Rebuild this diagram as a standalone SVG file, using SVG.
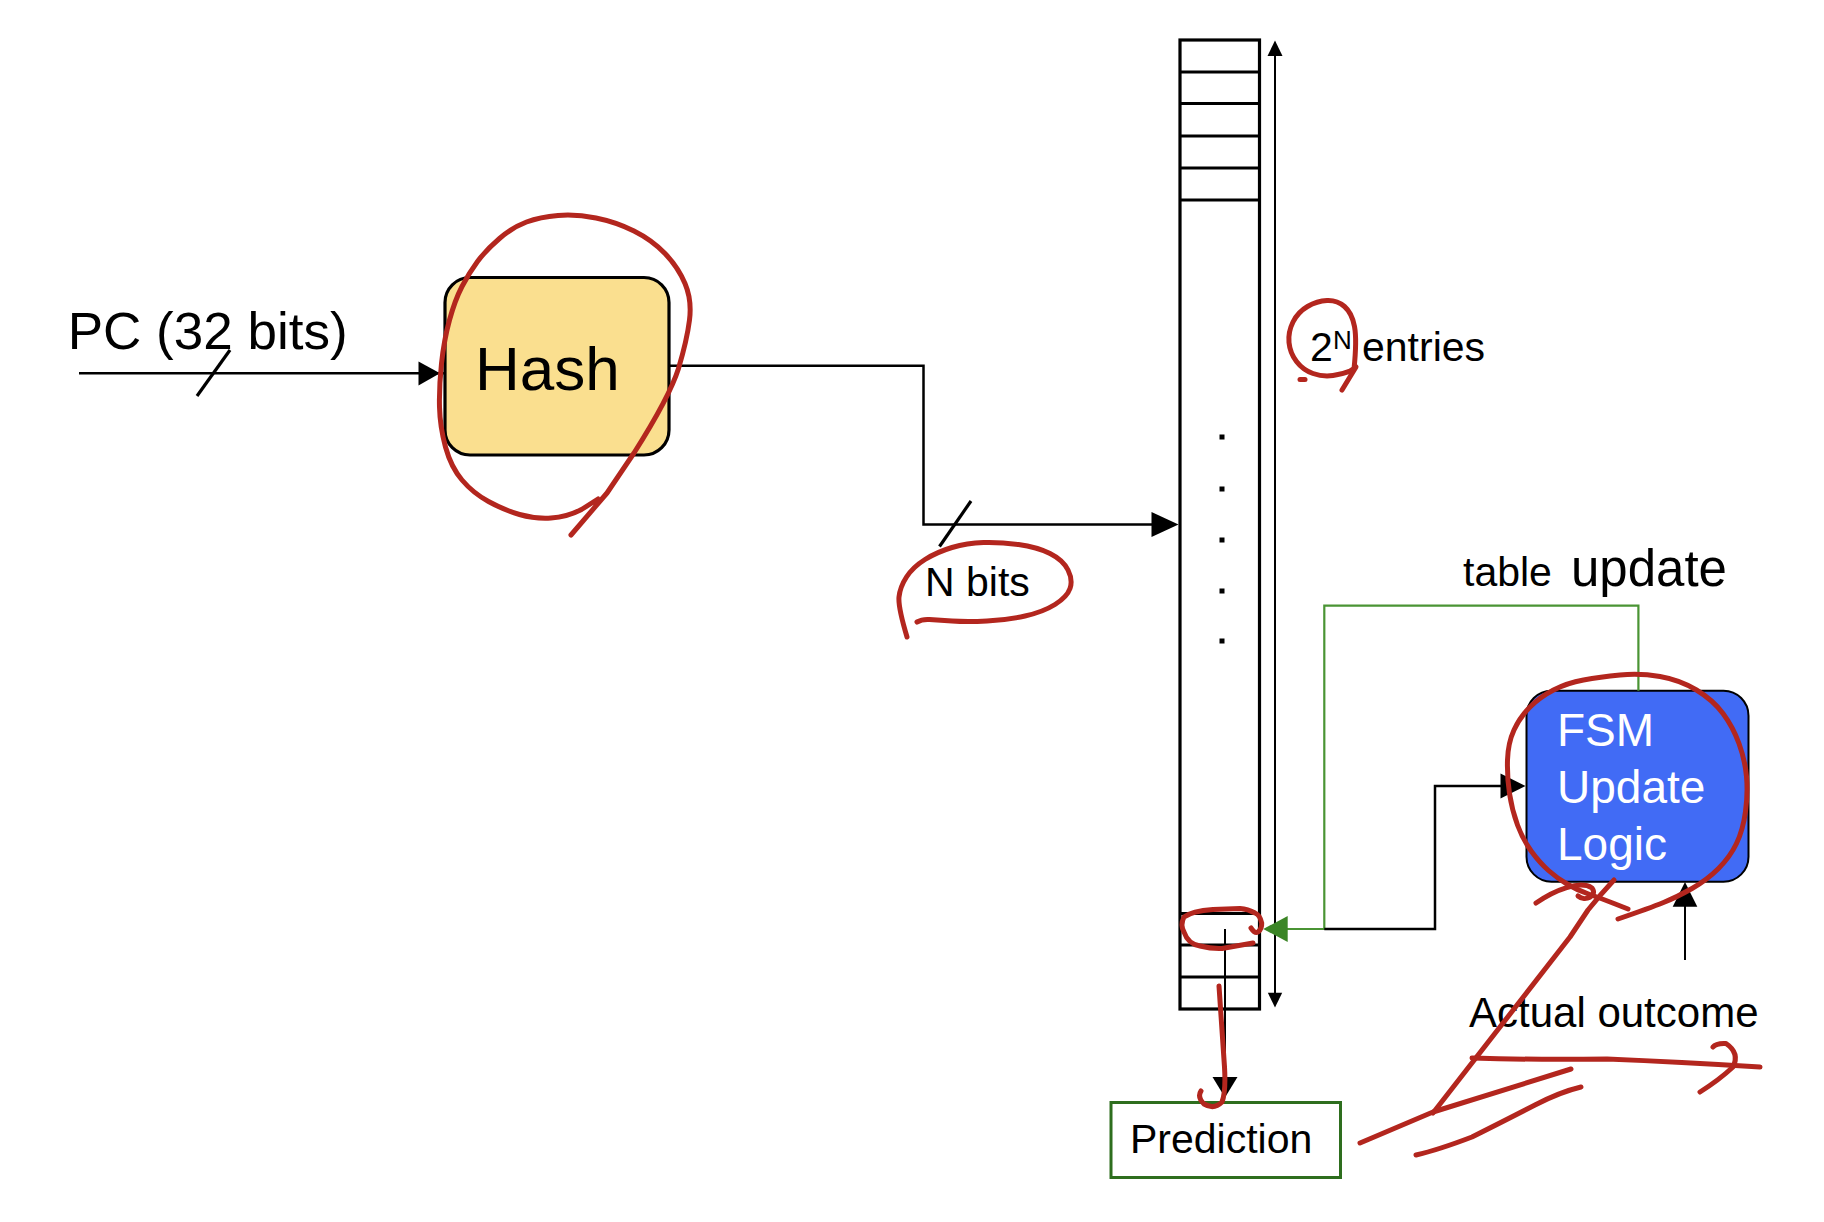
<svg xmlns="http://www.w3.org/2000/svg" width="1824" height="1222" viewBox="0 0 1824 1222">
<defs>
<style>
text{font-family:"Liberation Sans",Arial,Helvetica,sans-serif;fill:#000}
.ln{fill:none;stroke:#000;stroke-width:2.5}
.sl{fill:none;stroke:#000;stroke-width:3.2}
.thin{fill:none;stroke:#000;stroke-width:2}
.grn{fill:none;stroke:#4a9434;stroke-width:2.2}
.tbl{fill:none;stroke:#000;stroke-width:3.2}
.red{fill:none;stroke:#b3261e;stroke-width:5;stroke-linecap:round;stroke-linejoin:round}
.ah{fill:#000}
</style>
</defs>
<rect width="1824" height="1222" fill="#fff"/>

<g id="table">
<rect class="tbl" x="1180" y="40" width="79.5" height="969"/>
<path class="tbl" d="M1180,72H1259.5M1180,103.5H1259.5M1180,136H1259.5M1180,168H1259.5M1180,200H1259.5M1180,913.5H1259.5M1180,945H1259.5M1180,977H1259.5"/>
<g fill="#000">
<rect x="1219.5" y="434.5" width="5" height="5"/>
<rect x="1219.5" y="486.5" width="5" height="5"/>
<rect x="1219.5" y="537.5" width="5" height="5"/>
<rect x="1219.5" y="588.5" width="5" height="5"/>
<rect x="1219.5" y="638.5" width="5" height="5"/>
</g>
</g>

<g id="hash">
<rect x="445" y="277.5" width="224" height="177.5" rx="25" ry="25" fill="#fadf8f" stroke="#000" stroke-width="3.2"/>
<text x="475" y="390" font-size="62">Hash</text>
</g>

<g id="fsm">
<rect x="1526.5" y="690.7" width="222" height="191" rx="25" ry="25" fill="#416bf5" stroke="#000" stroke-width="2"/>
<text x="1557" y="746" font-size="46" style="fill:#fff">FSM</text>
<text x="1557" y="803" font-size="46" style="fill:#fff">Update</text>
<text x="1557" y="860" font-size="46" style="fill:#fff">Logic</text>
</g>

<g id="prediction">
<rect x="1111" y="1102.5" width="229.5" height="75" fill="#fff" stroke="#2e6e1e" stroke-width="3"/>
<text x="1130" y="1153" font-size="41">Prediction</text>
</g>

<g id="labels">
<text x="67.7" y="349" font-size="52" textLength="280" lengthAdjust="spacingAndGlyphs">PC (32 bits)</text>
<text x="925" y="596" font-size="41">N bits</text>
<text x="1310" y="361" font-size="41">2</text>
<text x="1333" y="349" font-size="26">N</text>
<text x="1362" y="361" font-size="41">entries</text>
<text x="1463" y="586" font-size="41">table</text>
<text x="1571" y="586" font-size="51">update</text>
<text x="1469" y="1027" font-size="42">Actual outcome</text>
</g>

<g id="connectors">
<path class="ln" d="M79,373.3H445"/>
<path class="ah" d="M418.5,361.5L440,373.3L418.5,385.5Z"/>
<path class="sl" d="M197,396L230,350"/>
<path class="ln" d="M669,365.7H923.5V524.4H1160"/>
<path class="ah" d="M1151.5,512L1178.5,524.4L1151.5,537Z"/>
<path class="sl" d="M939.5,546.5L971,501"/>
<path class="thin" d="M1275,50V998"/>
<path class="ah" d="M1275,40.5L1282.5,56L1267.5,56Z"/>
<path class="ah" d="M1275,1007.5L1282.2,992.7L1267.8,992.7Z"/>
<path class="thin" d="M1225,929V1080"/>
<path class="ah" d="M1212.5,1077L1237.5,1077L1225,1097.5Z"/>
<path class="grn" d="M1638.4,690.7V605.7H1324.3V929H1285"/>
<path d="M1263.3,929L1287.7,916L1287.7,942Z" fill="#3b8526"/>
<path class="ln" d="M1324.3,929H1435V786H1505"/>
<path class="ah" d="M1500.5,773.5L1525.5,786L1500.5,798.5Z"/>
<path class="thin" d="M1685,960V900"/>
<path class="ah" d="M1685,882L1697.3,906.7L1672.7,906.7Z"/>
</g>

<g id="annotations">
<path class="red" d="M571,535L607,493L634,453Q669.5,397 678.5,368.5Q687,340 689.5,320Q692,300 685,283.5Q678,267 665,253.5Q652,240 634,231Q616,222 596,218Q576,214 558,215.5Q540,217 526.5,222Q513,227 499.5,238.5Q486,250 477.5,261.5Q469,273 462,286.5Q455,300 449.5,320Q444,340 441.5,363.5Q439,387 439.5,407Q440,427 445.5,447Q451,467 462,480Q473,493 488.5,501.5Q504,510 519.5,514.5Q535,519 551,518Q567,517 581.5,509.5L598,499"/>
<path class="red" d="M1354,369Q1357,340 1354.5,326.5Q1352,313 1344.5,306.5Q1337,300 1327,300.5Q1317,301 1307.5,306.5Q1298,312 1293,322Q1288,332 1289,342.5Q1290,353 1296.5,361.5Q1303,370 1313,373.5Q1323,377 1333,375.5Q1343,374 1350,371L1356,367L1342,390"/>
<path class="red" d="M1300,379.5L1305,379.5"/>
<path class="red" d="M907,637Q898,607 899,597Q900,587 906.5,577Q913,567 925,559.5Q937,552 952,547.5Q967,543 983.5,542.5Q1000,542 1018.5,544.5Q1037,547 1050,553.5Q1063,560 1068,570Q1073,580 1070,588.5Q1067,597 1055,604.5Q1043,612 1025,616Q1007,620 987,621Q967,622 952,621Q937,620 929.5,619.5Q922,619 917,622"/>
<path class="red" d="M1618,919Q1650,908 1663.5,902.5Q1677,897 1692,888.5Q1707,880 1718.5,868.5Q1730,857 1736.5,843.5Q1743,830 1745.5,811.5Q1748,793 1746.5,776.5Q1745,760 1739,743.5Q1733,727 1723,713.5Q1713,700 1696.5,690Q1680,680 1660,676.5Q1640,673 1620,675Q1600,677 1583.5,680Q1567,683 1553.5,690Q1540,697 1530,707Q1520,717 1514,730Q1508,743 1507.5,760Q1507,777 1509.5,793.5Q1512,810 1517.5,825Q1523,840 1531.5,851.5Q1540,863 1548.5,870.5Q1557,878 1567,884Q1577,890 1588.5,894Q1600,898 1614,903.5L1628,909"/>
<path class="red" d="M1536,903C1555,890 1580,880 1592,888C1598,896 1585,902 1578,896"/>
<path class="red" d="M1614,880Q1600,895 1588,910L1570,937L1433,1113"/>
<path class="red" d="M1472,1058Q1535,1060 1607,1059Q1680,1062 1760,1067"/>
<path class="red" d="M1700,1092Q1719,1080 1733,1067Q1740,1053 1726,1043.5Q1716,1043 1713,1047"/>
<path class="red" d="M1360,1143L1433,1112L1571,1069"/>
<path class="red" d="M1416,1155Q1438,1150 1472,1137Q1506,1120 1535,1105Q1560,1092 1581,1087"/>
<path class="red" d="M1219,986Q1222,1030 1224.5,1067Q1226,1092 1222,1102Q1214,1110 1204,1104Q1197,1097 1201,1091"/>
<path class="red" d="M1251,928Q1255,934 1258,932Q1262,929 1261.7,923Q1260,915 1255,913Q1248,909 1240,908.5L1213,909.5Q1192,911 1184,917Q1180,925 1184,932Q1188,944 1200,946Q1212,949 1222,948.5L1253,943"/>
</g>
</svg>
